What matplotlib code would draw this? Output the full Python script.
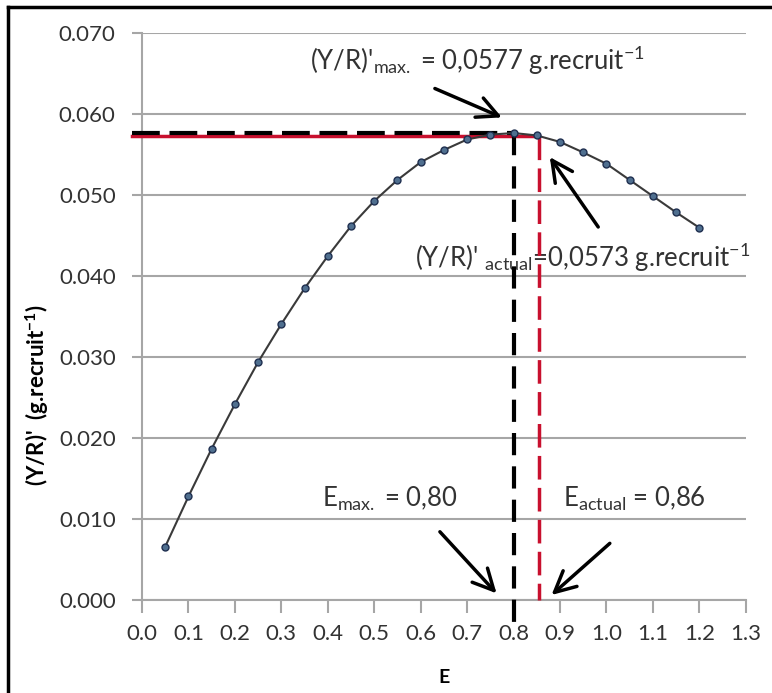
import matplotlib
matplotlib.use("Agg")
import matplotlib.pyplot as plt
from matplotlib.lines import Line2D

# effort E and relative yield per recruit (Y/R)'
E = [0.05, 0.10, 0.15, 0.20, 0.25, 0.30, 0.35, 0.40, 0.45, 0.50, 0.55, 0.60,
     0.65, 0.70, 0.75, 0.80, 0.85, 0.90, 0.95, 1.00, 1.05, 1.10, 1.15, 1.20]
YR = [0.0066, 0.0128, 0.0187, 0.0242, 0.0294, 0.0341, 0.0385, 0.0425, 0.0462,
      0.0493, 0.0519, 0.0541, 0.0556, 0.0569, 0.0575, 0.0577, 0.0574, 0.0566,
      0.0553, 0.0539, 0.0519, 0.0499, 0.0479, 0.0460]

E_max = 0.80
E_actual = 0.855
YR_max = 0.0577
YR_actual = 0.0573

xticks = [round(0.1 * i, 1) for i in range(14)]
yticks = [0.00, 0.01, 0.02, 0.03, 0.04, 0.05, 0.06, 0.07]

plt.rcParams['font.family'] = ['Lato', 'DejaVu Sans']
plt.rcParams['mathtext.fontset'] = 'custom'
plt.rcParams['mathtext.rm'] = 'Lato'
plt.rcParams['mathtext.it'] = 'Lato'
plt.rcParams['mathtext.bf'] = 'Lato:bold'
plt.rcParams['lines.scale_dashes'] = False

fig = plt.figure(figsize=(7.72, 6.93), dpi=100)
ax = fig.add_axes([0.184, 0.1342, 0.782, 0.8175])

grid_c = '#a6a6a6'
ax.set_xlim(0, 1.3)
ax.set_ylim(0, 0.07)
ax.set_xticks(xticks)
ax.set_xticklabels([f"{t:.1f}" for t in xticks])
ax.set_yticks(yticks)
ax.set_yticklabels([f"{t:.3f}" for t in yticks])
ax.yaxis.grid(True, color=grid_c, lw=1.5)
ax.set_axisbelow(True)
for s in ['top', 'right']:
    ax.spines[s].set_visible(False)
for s in ['left', 'bottom']:
    ax.spines[s].set_color(grid_c)
    ax.spines[s].set_linewidth(1.5)
ax.tick_params(axis='both', colors=grid_c, width=1.5, labelsize=16,
               labelcolor='#333333')
ax.tick_params(axis='y', length=7, pad=12)
ax.tick_params(axis='x', length=9, pad=8)

# reference lines
ax.plot([-0.022, E_actual], [YR_actual, YR_actual], color='#c8102e', lw=2.5,
        clip_on=False, zorder=3)
ax.plot([-0.022, E_max], [YR_max, YR_max], color='black', lw=3,
        dashes=(20, 7), clip_on=False, zorder=4)
ax.plot([E_max, E_max], [YR_max, -0.0031], color='black', lw=3,
        dashes=(16, 8), clip_on=False, zorder=4)
ax.plot([E_actual, E_actual], [YR_actual, 0], color='#c8102e', lw=2.5,
        dashes=(17, 6), clip_on=False, zorder=4)

# curve
ax.plot(E, YR, color='#3a3a3a', lw=1.5, marker='o', ms=5,
        mfc='#4f6f8f', mec='#1f2f4f', mew=1, zorder=5)

ax.set_xlabel('E', fontsize=14, fontweight='bold', labelpad=18)
ax.set_ylabel("(Y/R)'  (g.recruit$^{\\mathbf{-1}}$)", fontsize=16,
              fontweight='bold')
ax.yaxis.set_label_coords(-0.150, 0.362)

txt_c = '#333333'
fs = 18.5
ax.text(0.362, 0.0667, "(Y/R)'$_{\\mathrm{max.}}$ = 0,0577 g.recruit$^{-1}$",
        fontsize=fs, color=txt_c, va='center', ha='left')
ax.text(0.5876, 0.04235, "(Y/R)' $_{\\mathrm{actual}}$=0,0573 g.recruit$^{-1}$",
        fontsize=fs, color=txt_c, va='center', ha='left', clip_on=False)
ax.text(0.387, 0.0125, "E$_{\\mathrm{max.}}$ = 0,80",
        fontsize=fs, color=txt_c, va='center', ha='left')
ax.text(0.906, 0.0125, "E$_{\\mathrm{actual}}$ = 0,86",
        fontsize=fs, color=txt_c, va='center', ha='left')

arrow = dict(arrowstyle='->, head_length=0.5, head_width=0.25',
             lw=2.5, color='black', mutation_scale=30, shrinkA=0, shrinkB=0)
ax.annotate('', xy=(0.7749, 0.05963), xytext=(0.6306, 0.0632), arrowprops=arrow)
ax.annotate('', xy=(0.878, 0.05473), xytext=(0.9823, 0.04609), arrowprops=arrow)
ax.annotate('', xy=(0.7634, 0.00082), xytext=(0.6414, 0.00843), arrowprops=arrow)
ax.annotate('', xy=(0.8818, 0.00062), xytext=(1.0073, 0.00700), arrowprops=arrow)

# outer frame (top and left edges visible)
fig.add_artist(Line2D([0.0104, 0.0104], [0.99, 0.0], color='black', lw=2.5,
                      transform=fig.transFigure))
fig.add_artist(Line2D([0.0104, 1.0], [0.99, 0.99], color='black', lw=2.5,
                      transform=fig.transFigure))

fig.savefig('out.png', dpi=100)
